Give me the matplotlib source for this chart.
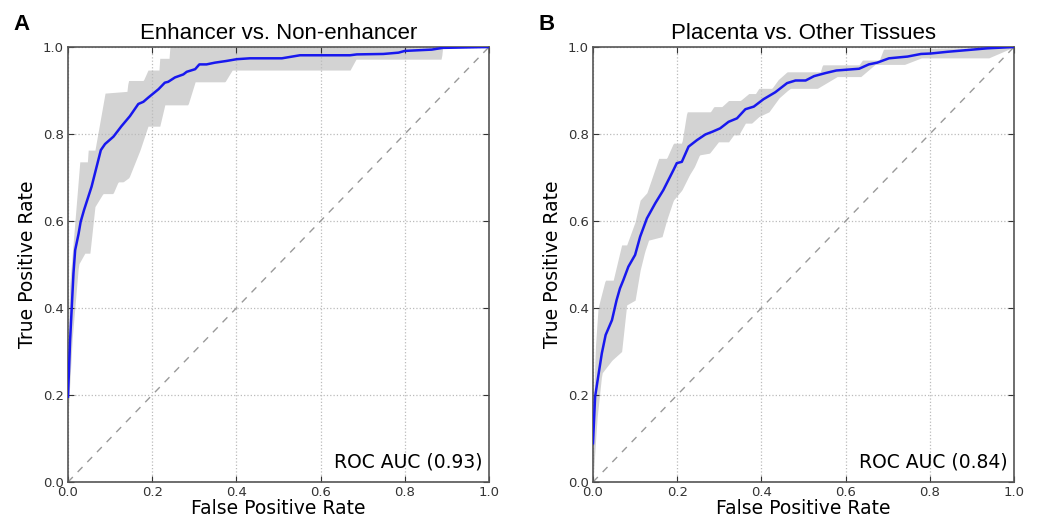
import numpy as np
import matplotlib
matplotlib.use("Agg")
import matplotlib.pyplot as plt

# panel A: Enhancer vs. Non-enhancer
enh_fpr = [0.0, 0.005, 0.009, 0.013, 0.017, 0.025, 0.030, 0.038, 0.056, 0.078, 0.088, 0.108,
           0.127, 0.147, 0.167, 0.179, 0.191, 0.215, 0.230, 0.238, 0.254, 0.274, 0.282, 0.302,
           0.312, 0.329, 0.349, 0.377, 0.401, 0.432, 0.508, 0.551, 0.670, 0.686, 0.749, 0.785,
           0.800, 0.864, 0.890, 1.0]
enh_tpr = [0.196, 0.326, 0.403, 0.480, 0.533, 0.570, 0.598, 0.625, 0.679, 0.763, 0.777, 0.794,
           0.818, 0.841, 0.869, 0.874, 0.884, 0.903, 0.918, 0.920, 0.930, 0.937, 0.943, 0.949,
           0.960, 0.960, 0.964, 0.968, 0.972, 0.974, 0.974, 0.981, 0.981, 0.983, 0.984, 0.987,
           0.991, 0.994, 0.998, 1.0]
enh_up_x = [0.0, 0.003, 0.028, 0.048, 0.048, 0.064, 0.088, 0.140, 0.143, 0.179, 0.190, 0.218,
            0.218, 0.242, 0.242, 1.0]
enh_up_y = [0.25, 0.44, 0.736, 0.736, 0.763, 0.763, 0.894, 0.898, 0.923, 0.923, 0.947, 0.947,
            0.974, 0.974, 1.0, 1.0]
enh_lo_x = [0.0, 0.010, 0.025, 0.040, 0.052, 0.064, 0.083, 0.107, 0.119, 0.131, 0.145, 0.171,
            0.190, 0.218, 0.230, 0.285, 0.302, 0.373, 0.390, 0.670, 0.684, 0.887, 0.890, 1.0]
enh_lo_y = [0.15, 0.33, 0.50, 0.526, 0.526, 0.633, 0.663, 0.663, 0.690, 0.690, 0.700, 0.763,
            0.818, 0.818, 0.867, 0.867, 0.920, 0.920, 0.947, 0.947, 0.972, 0.972, 1.0, 1.0]

# panel B: Placenta vs. Other Tissues
pla_fpr = [0.0, 0.005, 0.011, 0.021, 0.030, 0.045, 0.056, 0.064, 0.072, 0.084, 0.100, 0.112,
           0.128, 0.148, 0.167, 0.191, 0.199, 0.211, 0.227, 0.247, 0.267, 0.283, 0.302, 0.322,
           0.342, 0.362, 0.382, 0.405, 0.433, 0.461, 0.481, 0.505, 0.525, 0.552, 0.578, 0.632,
           0.655, 0.675, 0.703, 0.747, 0.779, 0.802, 0.842, 0.890, 0.937, 1.0]
pla_tpr = [0.089, 0.196, 0.234, 0.296, 0.338, 0.372, 0.418, 0.445, 0.464, 0.495, 0.522, 0.564,
           0.606, 0.641, 0.671, 0.717, 0.733, 0.736, 0.771, 0.786, 0.799, 0.805, 0.813, 0.828,
           0.836, 0.857, 0.863, 0.880, 0.896, 0.917, 0.923, 0.923, 0.933, 0.940, 0.946, 0.950,
           0.960, 0.964, 0.974, 0.978, 0.984, 0.985, 0.989, 0.993, 0.997, 1.0]
pla_up_x = [0.0, 0.005, 0.012, 0.029, 0.048, 0.068, 0.080, 0.100, 0.112, 0.128, 0.156, 0.175,
            0.191, 0.211, 0.223, 0.279, 0.287, 0.306, 0.322, 0.350, 0.370, 0.386, 0.394, 0.425,
            0.440, 0.461, 0.540, 0.545, 0.632, 0.640, 0.680, 0.690, 1.0]
pla_up_y = [0.12, 0.30, 0.40, 0.464, 0.464, 0.545, 0.545, 0.598, 0.648, 0.665, 0.744, 0.744,
            0.779, 0.779, 0.851, 0.851, 0.863, 0.863, 0.877, 0.877, 0.893, 0.893, 0.905, 0.905,
            0.925, 0.943, 0.943, 0.959, 0.959, 0.970, 0.970, 0.995, 1.0]
pla_lo_x = [0.0, 0.005, 0.010, 0.021, 0.045, 0.068, 0.080, 0.100, 0.112, 0.123, 0.132, 0.164,
            0.175, 0.191, 0.211, 0.229, 0.241, 0.253, 0.277, 0.298, 0.322, 0.334, 0.346, 0.362,
            0.377, 0.394, 0.418, 0.442, 0.462, 0.469, 0.525, 0.533, 0.580, 0.636, 0.670, 0.740,
            0.780, 0.830, 0.940, 1.0]
pla_lo_y = [0.0, 0.08, 0.15, 0.25, 0.28, 0.30, 0.407, 0.418, 0.487, 0.53, 0.556, 0.564,
            0.602, 0.648, 0.671, 0.706, 0.725, 0.752, 0.756, 0.782, 0.782, 0.798, 0.798, 0.825,
            0.825, 0.840, 0.851, 0.883, 0.900, 0.905, 0.905, 0.905, 0.932, 0.932, 0.960, 0.960,
            0.975, 0.975, 0.975, 1.0]

panels = [
    ("A", "Enhancer vs. Non-enhancer", "ROC AUC (0.93)",
     enh_fpr, enh_tpr, enh_up_x, enh_up_y, enh_lo_x, enh_lo_y),
    ("B", "Placenta vs. Other Tissues", "ROC AUC (0.84)",
     pla_fpr, pla_tpr, pla_up_x, pla_up_y, pla_lo_x, pla_lo_y),
]

fig = plt.figure(figsize=(10.39, 5.17), dpi=100)
lefts = [68 / 1039, 593 / 1039]

for left, (tag, title, auc, fpr, tpr, ux, uy, lx, ly) in zip(lefts, panels):
    ax = fig.add_axes([left, 35 / 517, 421 / 1039, 435 / 517])
    grid = np.linspace(0, 1, 501)
    upper = np.interp(grid, ux, uy)
    lower = np.interp(grid, lx, ly)
    ax.fill_between(grid, lower, upper, color="#d3d3d3", linewidth=0, zorder=1)
    ax.plot([0, 1], [0, 1], linestyle=(0, (5, 5)), color="#999999", linewidth=1, zorder=2)
    ax.plot(fpr, tpr, color="#1818ee", linewidth=1.8, zorder=3)

    ax.set_xlim(0, 1)
    ax.set_ylim(0, 1)
    ax.set_xticks(np.arange(0, 1.01, 0.2))
    ax.set_yticks(np.arange(0, 1.01, 0.2))
    ax.grid(True, linestyle=":", color="#bbbbbb", linewidth=0.9)
    ax.tick_params(direction="in", length=4, labelsize=9.5, colors="#333333",
                   top=True, right=True)
    ax.tick_params(axis="x", pad=3)
    ax.tick_params(axis="y", pad=3)
    for sp in ax.spines.values():
        sp.set_color("#555555")
        sp.set_linewidth(1.2)

    ax.set_xlabel("False Positive Rate", fontsize=13.5, labelpad=0)
    ax.set_ylabel("True Positive Rate", fontsize=13.5, labelpad=4)
    ax.set_title(title, fontsize=16, family="Liberation Sans", pad=6)
    ax.text(0.985, 0.025, auc, transform=ax.transAxes, ha="right", va="bottom",
            fontsize=13.5)
    fig.text(left - 55 / 1039, 1 - 30 / 517, tag, fontsize=16, fontweight="bold",
             family="Liberation Sans", ha="left", va="baseline")

fig.savefig("out.png", dpi=100)
